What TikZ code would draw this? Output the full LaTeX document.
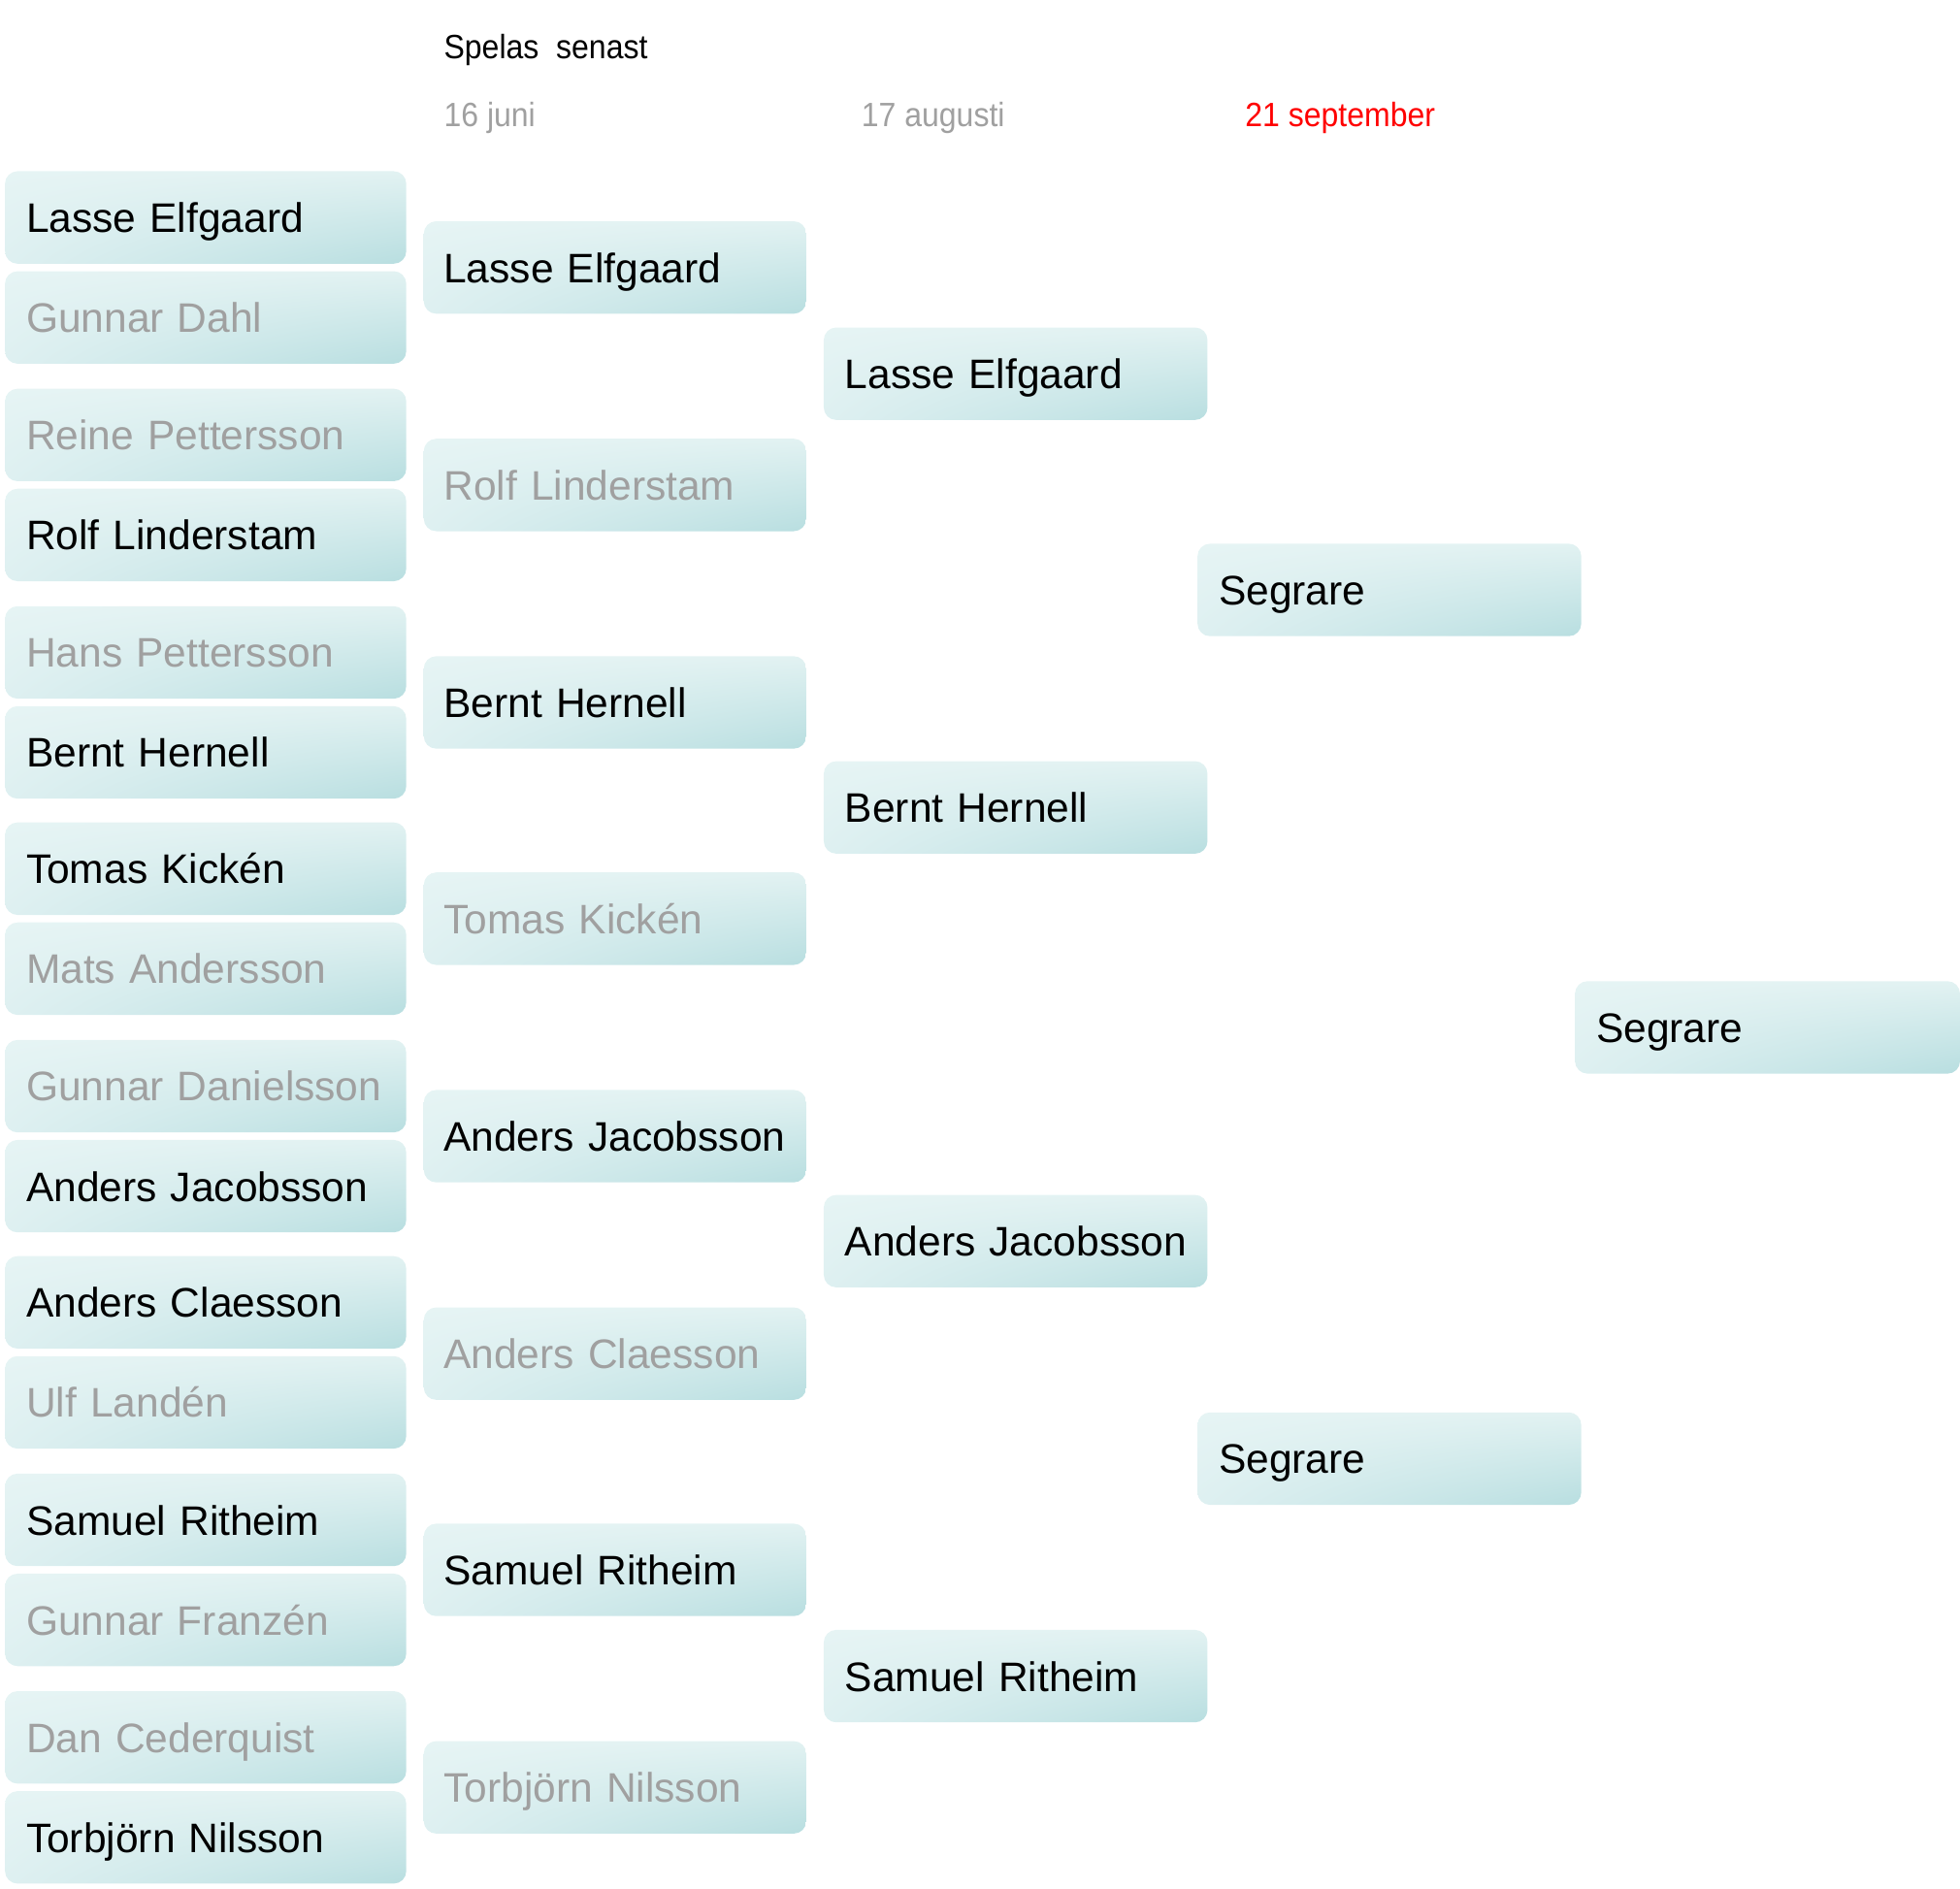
\documentclass[tikz,border=0pt]{standalone}
\usepackage{fontspec}
\usetikzlibrary{shadings}
\setmainfont{Liberation Sans}
\newfontfamily\headfont[FakeStretch=0.92]{Liberation Sans}
\definecolor{lostgray}{RGB}{160,160,160}
\definecolor{boxul}{RGB}{230,244,244}
\definecolor{boxur}{RGB}{226,242,242}
\definecolor{boxll}{RGB}{222,240,241}
\definecolor{boxlr}{RGB}{184,222,224}
\tikzset{
  pbox/.style={rounded corners=10pt, shade, upper left=boxul, upper right=boxur,
    lower left=boxll, lower right=boxlr, minimum height=74pt, inner xsep=17pt,
    inner ysep=0pt, text height=24pt, text depth=0pt, align=left,
    font=\fontsize{33}{40}\selectfont, anchor=center},
  cA/.style={pbox, text width=287pt},
  cB/.style={pbox, inner xsep=16pt, text width=274pt},
  cC/.style={pbox, text width=273pt},
  cD/.style={pbox, text width=274pt},
  win/.style={text=black},
  lose/.style={text=lostgray},
  head/.style={anchor=base west, inner sep=0pt, font=\headfont\fontsize{27}{32}\selectfont}
}
\begin{document}
\begin{tikzpicture}[x=1pt,y=-1pt]
\useasboundingbox (0,0) rectangle (1568,1511);
% headers
\node[head, text=black] (h0) at (355,47) {Spelas\ \ senast};
\node[head, text=lostgray] (h1) at (355,101) {16 juni};
\node[head, text=lostgray] (h2) at (689,101) {17 augusti};
\node[head, text=red] (h3) at (996,101) {21 september};
% round 1
\node[cA, win]  (a1)  at (164.5,174)  {Lasse Elfgaard};
\node[cA, lose] (a2)  at (164.5,254)  {Gunnar Dahl};
\node[cA, lose] (a3)  at (164.5,348)  {Reine Pettersson};
\node[cA, win]  (a4)  at (164.5,428)  {Rolf Linderstam};
\node[cA, lose] (a5)  at (164.5,522)  {Hans Pettersson};
\node[cA, win]  (a6)  at (164.5,602)  {Bernt Hernell};
\node[cA, win]  (a7)  at (164.5,695)  {Tomas Kickén};
\node[cA, lose] (a8)  at (164.5,775)  {Mats Andersson};
\node[cA, lose] (a9)  at (164.5,869)  {\mbox{Gunnar Danielsson}};
\node[cA, win]  (a10) at (164.5,949)  {\mbox{Anders Jacobsson}};
\node[cA, win]  (a11) at (164.5,1042) {Anders Claesson};
\node[cA, lose] (a12) at (164.5,1122) {Ulf Landén};
\node[cA, win]  (a13) at (164.5,1216) {Samuel Ritheim};
\node[cA, lose] (a14) at (164.5,1296) {Gunnar Franzén};
\node[cA, lose] (a15) at (164.5,1390) {Dan Cederquist};
\node[cA, win]  (a16) at (164.5,1470) {Torbjörn Nilsson};
% round 2
\node[cB, win]  (b1) at (492,214)  {Lasse Elfgaard};
\node[cB, lose] (b2) at (492,388)  {Rolf Linderstam};
\node[cB, win]  (b3) at (492,562)  {Bernt Hernell};
\node[cB, lose] (b4) at (492,735)  {Tomas Kickén};
\node[cB, win]  (b5) at (492,909)  {\mbox{Anders Jacobsson}};
\node[cB, lose] (b6) at (492,1083) {Anders Claesson};
\node[cB, win]  (b7) at (492,1256) {Samuel Ritheim};
\node[cB, lose] (b8) at (492,1430) {Torbjörn Nilsson};
% round 3
\node[cC, win] (c1) at (812.5,299)  {Lasse Elfgaard};
\node[cC, win] (c2) at (812.5,646)  {Bernt Hernell};
\node[cC, win] (c3) at (812.5,993)  {\mbox{Anders Jacobsson}};
\node[cC, win] (c4) at (812.5,1341) {Samuel Ritheim};
% round 4
\node[cC, win] (d1) at (1111.5,472)  {Segrare};
\node[cC, win] (d2) at (1111.5,1167) {Segrare};
% final
\node[cD, win] (e1) at (1414,822) {Segrare};
\end{tikzpicture}
\end{document}
